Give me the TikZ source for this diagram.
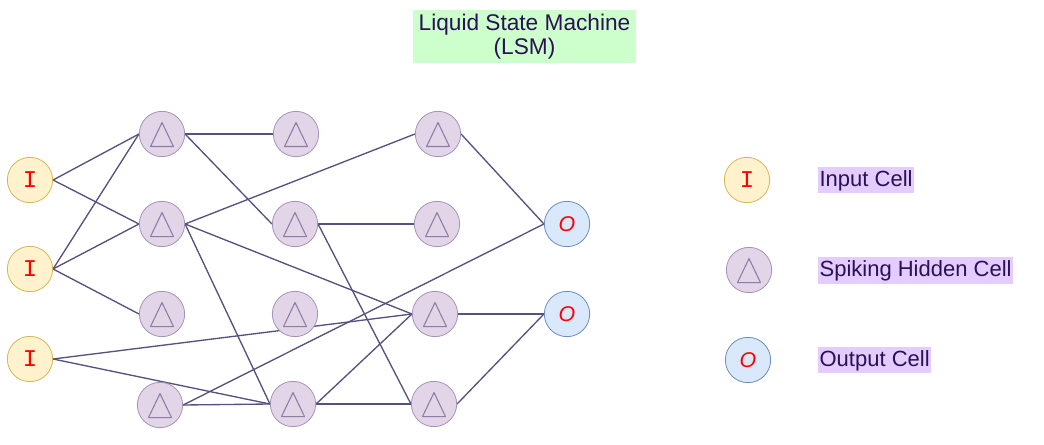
\documentclass[tikz,border=0pt]{standalone}
\usepackage{fontspec}
\setmainfont{Liberation Sans}
\setmonofont{Liberation Mono}
\usetikzlibrary{backgrounds}
\definecolor{inF}{HTML}{FFF2CC}
\definecolor{inD}{HTML}{D6B656}
\definecolor{hidF}{HTML}{E1D5E7}
\definecolor{hidD}{HTML}{A593B8}
\definecolor{triC}{HTML}{8E7DA6}
\definecolor{outF}{HTML}{DAE8FC}
\definecolor{outD}{HTML}{6C8EBF}
\definecolor{edgeC}{HTML}{56517E}
\definecolor{titleF}{HTML}{CCFFCC}
\definecolor{labF}{HTML}{E5CCFF}
\definecolor{txtC}{HTML}{2B1055}
\tikzset{
  cell/.style={circle, minimum size=34pt, inner sep=0pt, line width=0.6pt},
  incell/.style={cell, fill=inF, draw=inD, text=red, font=\fontsize{18}{18}\selectfont\ttfamily},
  outcell/.style={cell, fill=outF, draw=outD, text=red, font=\fontsize{16}{16}\selectfont\itshape},
  hidcell/.style={cell, fill=hidF, draw=hidD,
    path picture={\draw[triC, line width=0.8pt, line join=round]
      ([yshift=8.6pt]path picture bounding box.center) -- ++(-8.6pt,-18pt) -- ++(17.2pt,0) -- cycle;}},
  conn/.style={draw=edgeC, line width=1pt},
  legtext/.style={anchor=west, fill=labF, text=txtC, inner xsep=1pt, inner ysep=2pt,
    text height=12.5pt, text depth=3.5pt, font=\fontsize{16.5}{16.5}\selectfont},
}
\begin{document}
\begin{tikzpicture}[x=0.75pt, y=-0.75pt]
\useasboundingbox (0,0) rectangle (1044,445);
% title
\node[fill=titleF, text=txtC, minimum width=167pt, minimum height=40pt, align=center,
  font=\fontsize{17}{17.5}\selectfont] (title) at (524.5,36.5) {Liquid State Machine\\(LSM)};
% inputs
\node[incell] (i1) at (30,180) {I};
\node[incell] (i2) at (30,269) {I};
\node[incell] (i3) at (30,359) {I};
% hidden col 1
\node[hidcell] (h11) at (162,134) {};
\node[hidcell] (h12) at (162,224) {};
\node[hidcell] (h13) at (162,314) {};
\node[hidcell] (h14) at (160,405) {};
% hidden col 2
\node[hidcell] (h21) at (296,134) {};
\node[hidcell] (h22) at (295,224) {};
\node[hidcell] (h23) at (295,314) {};
\node[hidcell] (h24) at (293,404) {};
% hidden col 3
\node[hidcell] (h31) at (438,134) {};
\node[hidcell] (h32) at (437,224) {};
\node[hidcell] (h33) at (435,314) {};
\node[hidcell] (h34) at (434,404) {};
% outputs
\node[outcell] (o1) at (567,224) {O};
\node[outcell] (o2) at (567,314) {O};
% connections
\begin{scope}[on background layer]
\draw[conn] (i1.east) -- (h11.west);
\draw[conn] (i1.east) -- (h12.west);
\draw[conn] (i2.east) -- (h11.west);
\draw[conn] (i2.east) -- (h12.west);
\draw[conn] (i2.east) -- (h13.west);
\draw[conn] (i3.east) -- (h33.west);
\draw[conn] (i3.east) -- (h24.west);
\draw[conn] (h11.east) -- (h21.west);
\draw[conn] (h11.east) -- (h22.west);
\draw[conn] (h12.east) -- (h31.west);
\draw[conn] (h12.east) -- (h24.west);
\draw[conn] (h12.east) -- (h33.west);
\draw[conn] (h14.east) -- (h24.west);
\draw[conn] (h14.east) -- (o1.west);
\draw[conn] (h22.east) -- (h32.west);
\draw[conn] (h22.east) -- (h34.west);
\draw[conn] (h24.east) -- (h33.west);
\draw[conn] (h24.east) -- (h34.west);
\draw[conn] (h31.east) -- (o1.west);
\draw[conn] (h33.east) -- (o2.west);
\draw[conn] (h34.east) -- (o2.west);
\end{scope}
% legend
\node[incell] (li) at (747,180) {I};
\node[hidcell] (lh) at (749,270) {};
\node[outcell] (lo) at (748,360) {O};
\node[legtext] (lti) at (818,180) {Input Cell};
\node[legtext] (lth) at (818,270.5) {Spiking Hidden Cell};
\node[legtext] (lto) at (818,360) {Output Cell};
\end{tikzpicture}
\end{document}
